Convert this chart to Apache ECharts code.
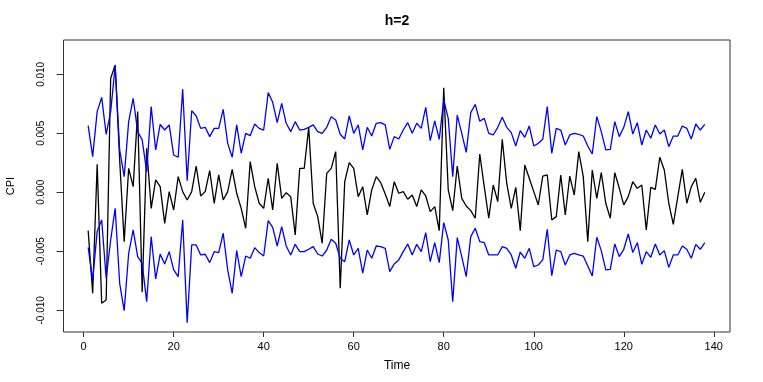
<!DOCTYPE html>
<html>
<head>
<meta charset="utf-8">
<script src="https://cdn.jsdelivr.net/npm/echarts@6/dist/echarts.min.js"></script>
<style>
  html, body { margin: 0; padding: 0; background: #fff; }
  #chart { width: 763px; height: 382px; }
</style>
</head>
<body>
<div id="chart"></div>
<script>
// CPI forecast errors, h=2, with upper / lower bands
const cpi = [
  -0.00325, -0.00856, 0.00237, -0.00941, -0.00912, 0.00966, 0.01079, 0.00274, -0.00418, 0.00203,
  0.00048, 0.00684, -0.00847, 0.00373, -0.00136, 0.00105, 0.00048, -0.00263, 0.00006, -0.0015,
  0.00133, 0.00006, -0.00065, 0.00006, 0.00223, -0.00031, 0.00006, 0.00184, -0.00093, 0.00147,
  -0.00065, 0.00006, 0.00195, -0.00008, -0.00136, -0.00305, 0.0026, 0.00048, -0.00093, -0.00136,
  0.00119, -0.0015, 0.00246, -0.00051, -0.00003, -0.00037, -0.00362, 0.00203, 0.00203, 0.00551,
  -0.00093, -0.00206, -0.00432, 0.00161, 0.00203, 0.00345, -0.00814, 0.0009, 0.00251, 0.00203,
  -0.00037, 0.00048, -0.00192, 0.0002, 0.00133, 0.00082, -0.00014, -0.00121, 0.0009, -0.00008,
  0.00006, -0.00059, -0.00023, -0.00121, 0.0002, -0.00031, -0.00164, -0.00121, -0.00325, 0.00887,
  0.0002, -0.00155, 0.00223, -0.00051, -0.00116, -0.00155, -0.0022, 0.00325, 0.00048, -0.0022,
  0.00062, -0.00079, 0.00449, 0.00076, -0.00136, 0.00042, -0.00325, 0.00232, 0.00119, 0.00006,
  -0.00107, 0.00138, 0.00147, -0.00234, -0.00206, 0.00147, -0.00192, 0.00138, -0.00023, 0.00345,
  0.00133, -0.00418, 0.00189, -0.00051, 0.00167, -0.00093, -0.0022, 0.00167, 0.00034, -0.00107,
  -0.00037, 0.0009, 0.00034, 0.00062, -0.00319, 0.00042, 0.00025, 0.00297, 0.00189, -0.00093,
  -0.00271, -0.00037, 0.00195, -0.00093, 0.00048, 0.00119, -0.00085, 0.0
]

const upper = [
  0.00565, 0.00302, 0.00684, 0.00805, 0.00492, 0.00684, 0.01071, 0.00359, 0.00133, 0.00599,
  0.00797, 0.00514, 0.00444, 0.00175, 0.00726, 0.00359, 0.00575, 0.00528, 0.00571, 0.00316,
  0.00297, 0.00873, 0.00099, 0.00692, 0.00647, 0.00542, 0.00551, 0.00472, 0.00542, 0.00542,
  0.00703, 0.00415, 0.00297, 0.00571, 0.00331, 0.005, 0.0048, 0.00579, 0.00542, 0.00528,
  0.00845, 0.00763, 0.0059, 0.00754, 0.00585, 0.00514, 0.00599, 0.00528, 0.00534, 0.00551,
  0.00571, 0.00514, 0.005, 0.00551, 0.00641, 0.00613, 0.00492, 0.00452, 0.00647, 0.005,
  0.00571, 0.00359, 0.00551, 0.00477, 0.00585, 0.0059, 0.00571, 0.00364, 0.00472, 0.00452,
  0.00528, 0.0059, 0.005, 0.00585, 0.00542, 0.0072, 0.00438, 0.00605, 0.00449, 0.00782,
  0.00627, 0.00133, 0.00655, 0.005, 0.00339, 0.00675, 0.00746, 0.00602, 0.00627, 0.005,
  0.00486, 0.00551, 0.00636, 0.00551, 0.00506, 0.00393, 0.00523, 0.00466, 0.00562, 0.00393,
  0.00415, 0.00449, 0.00726, 0.00331, 0.00542, 0.00528, 0.00401, 0.00486, 0.005, 0.00492,
  0.00477, 0.00393, 0.00325, 0.00641, 0.00514, 0.00359, 0.00364, 0.00599, 0.00472, 0.00551,
  0.00684, 0.00494, 0.0059, 0.00401, 0.00528, 0.00458, 0.00571, 0.00494, 0.00528, 0.00387,
  0.00477, 0.00477, 0.00562, 0.00542, 0.00452, 0.00579, 0.00528, 0.00576
]

const lower = [
  -0.00466, -0.00743, -0.00333, -0.00234, -0.00729, -0.00404, -0.00136, -0.00771, -0.01003, -0.00517,
  -0.00319, -0.00545, -0.00602, -0.00927, -0.00376, -0.00734, -0.00524, -0.00607, -0.00503, -0.00658,
  -0.00715, -0.00234, -0.01105, -0.00446, -0.00446, -0.00531, -0.00525, -0.00596, -0.00503, -0.00511,
  -0.00347, -0.00658, -0.00856, -0.00494, -0.00715, -0.0054, -0.00559, -0.00469, -0.00511, -0.0054,
  -0.0024, -0.00297, -0.00455, -0.00291, -0.00455, -0.00531, -0.00441, -0.00503, -0.00503, -0.00483,
  -0.0046, -0.00523, -0.0054, -0.00489, -0.00398, -0.00432, -0.00559, -0.00588, -0.00404, -0.00531,
  -0.00475, -0.00686, -0.00489, -0.00559, -0.00455, -0.0046, -0.00475, -0.00672, -0.00607, -0.00573,
  -0.00503, -0.00438, -0.00531, -0.00441, -0.00503, -0.00342, -0.00588, -0.00427, -0.00596, -0.00257,
  -0.00404, -0.00927, -0.00384, -0.00545, -0.00715, -0.00376, -0.00305, -0.00418, -0.00427, -0.00531,
  -0.00531, -0.00531, -0.0046, -0.00475, -0.00531, -0.00644, -0.00506, -0.00559, -0.00475, -0.0063,
  -0.00616, -0.00573, -0.00314, -0.00706, -0.00489, -0.00503, -0.00616, -0.00531, -0.00517, -0.00531,
  -0.0054, -0.00624, -0.00709, -0.00381, -0.00494, -0.00658, -0.00653, -0.00438, -0.00545, -0.00483,
  -0.00353, -0.00511, -0.00427, -0.0061, -0.00503, -0.00551, -0.00438, -0.00531, -0.00494, -0.00636,
  -0.00531, -0.00531, -0.00455, -0.00483, -0.00559, -0.00441, -0.00483, -0.00427
]

const xTicks = [0, 20, 40, 60, 80, 100, 120, 140]
const yTicks = [-0.01, -0.005, 0, 0.005, 0.01]

const font = 'Liberation Sans, Arial, Helvetica, sans-serif'

// time index 1..n
const pairs = arr => arr.map((v, i) => [i + 1, v])

const chart = echarts.init(document.getElementById('chart'), null, { renderer: 'canvas' })

const option = {
  animation: false,
  backgroundColor: '#fff',
  grid: {
    left: 63.5, right: 33, top: 40, bottom: 50,
    show: true, borderColor: '#333', borderWidth: 1
  },
  xAxis: {
    type: 'value',
    min: -4.48, max: 143.6,
    axisLine: { show: false, onZero: false },
    splitLine: { show: false },
    axisTick: { show: true, customValues: xTicks, length: 5, lineStyle: { color: '#333' } },
    axisLabel: {
      customValues: xTicks, color: '#000', fontFamily: font, fontSize: 11, margin: 9
    }
  },
  yAxis: {
    type: 'value',
    min: -0.01184, max: 0.01291,
    axisLine: { show: false, onZero: false },
    splitLine: { show: false },
    axisTick: { show: true, customValues: yTicks, length: 7, lineStyle: { color: '#333' } },
    axisLabel: {
      customValues: yTicks, color: '#000', fontFamily: font, fontSize: 10,
      rotate: 90, margin: 17,
      formatter: v => v.toFixed(3)
    }
  },
  graphic: [
    {
      type: 'text', x: 397, y: 21,
      style: { text: 'h=2', font: 'bold 14px ' + font, fill: '#000', align: 'center', verticalAlign: 'middle' }
    },
    {
      type: 'text', x: 397, y: 366,
      style: { text: 'Time', font: '12px ' + font, fill: '#000', align: 'center', verticalAlign: 'middle' }
    },
    {
      type: 'text', x: 11, y: 186, rotation: Math.PI / 2,
      style: { text: 'CPI', font: '11px ' + font, fill: '#000', align: 'center', verticalAlign: 'middle' }
    }
  ],
  series: [
    {
      name: 'CPI', type: 'line', data: pairs(cpi), showSymbol: false,
      lineStyle: { color: '#000', width: 1.3 }, z: 2
    },
    {
      name: 'upper', type: 'line', data: pairs(upper), showSymbol: false,
      lineStyle: { color: '#0000ff', width: 1.3 }, z: 3
    },
    {
      name: 'lower', type: 'line', data: pairs(lower), showSymbol: false,
      lineStyle: { color: '#0000ff', width: 1.3 }, z: 3
    }
  ]
}

chart.setOption(option)
</script>
</body>
</html>
